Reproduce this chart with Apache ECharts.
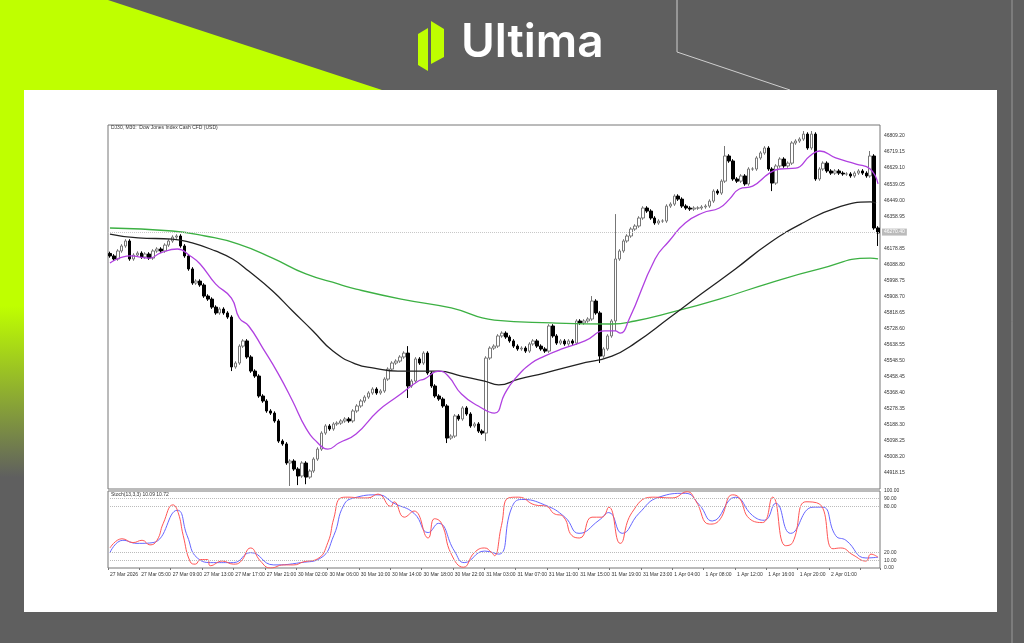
<!DOCTYPE html>
<html>
<head>
<meta charset="utf-8">
<script src="https://cdn.jsdelivr.net/npm/echarts@6/dist/echarts.min.js"></script>
<style>
  html, body { margin: 0; padding: 0; background: #5f5f5f; }
  #chart { width: 1024px; height: 643px; }
</style>
</head>
<body>
<div id="chart"></div>
<script>
// DJ30 M30 closes
const closes = [
  46136, 46119, 46164, 46192, 46220, 46119, 46141, 46152, 46130, 46147,
  46124, 46164, 46175, 46164, 46197, 46220, 46242, 46248, 46192, 46136,
  46063, 45984, 45995, 45973, 45911, 45894, 45849, 45816, 45838, 45816,
  45793, 45513, 45535, 45630, 45659, 45569, 45490, 45462, 45350, 45322,
  45266, 45254, 45210, 45097, 45081, 44974, 44985, 44940, 44901, 44974,
  44895, 44929, 44996, 45052, 45142, 45182, 45165, 45193, 45198, 45210,
  45221, 45210, 45266, 45294, 45322, 45344, 45367, 45389, 45367, 45378,
  45445, 45501, 45535, 45546, 45569, 45591, 45406, 45434, 45558, 45535,
  45591, 45479, 45406, 45350, 45333, 45294, 45114, 45125, 45238, 45221,
  45283, 45249, 45182, 45193, 45153, 45142, 45563, 45619, 45630, 45687,
  45703, 45681, 45659, 45630, 45614, 45619, 45602, 45642, 45659, 45630,
  45614, 45602, 45743, 45687, 45647, 45659, 45642, 45659, 45647, 45771,
  45760, 45771, 45782, 45883, 45816, 45574, 45614, 45687, 45771, 46119,
  46164, 46220, 46248, 46287, 46304, 46349, 46405, 46388, 46349, 46321,
  46332, 46332, 46416, 46427, 46472, 46455, 46416, 46405, 46399, 46405,
  46405, 46411, 46416, 46444, 46500, 46489, 46556, 46697, 46669, 46568,
  46556, 46585, 46540, 46624, 46624, 46686, 46714, 46742, 46624, 46545,
  46641, 46680, 46641, 46657, 46770, 46781, 46792, 46820, 46742, 46820,
  46568, 46624, 46657, 46613, 46601, 46613, 46601, 46596, 46596, 46585,
  46601, 46613, 46601, 46585, 46697, 46293, 46265
];
const firstOpen = 46150;
// long wicks: [bar, high, low]
const wicks = [
  [31, null, 45490], [46, null, 44845], [48, null, 44850], [50, null, 44855],
  [76, 45630, 45339], [86, null, 45086], [96, null, 45097], [123, 45911, null],
  [125, null, 45535], [129, 46371, 45715], [157, 46753, null], [169, null, 46500],
  [177, 46837, null], [179, 46837, null], [194, 46725, null], [196, null, 46192]
];

// moving averages, [bar, price]
const maFast = [
  [0, 46096], [5.1, 46136], [10.2, 46124], [12.8, 46152], [17.2, 46175], [20.5, 46136],
  [23, 46091], [27, 45978], [31, 45900], [33, 45788], [35.4, 45743], [39, 45619],
  [43, 45473], [46.6, 45322], [50, 45170], [53.3, 45081], [55.6, 45052], [58.4, 45086],
  [62.8, 45137], [68.4, 45266], [73.5, 45350], [78.7, 45434], [80.2, 45445], [84, 45490],
  [86.3, 45462], [89.7, 45361], [94, 45294], [98.1, 45254], [100.7, 45361], [103.3, 45445],
  [107.6, 45535], [110.9, 45574], [115.3, 45614], [121.2, 45659], [126.3, 45715], [128.9, 45715],
  [130.2, 45703], [132.5, 45782], [139.1, 46119], [142.7, 46220], [146.8, 46321], [151.2, 46377],
  [155.5, 46405], [158.1, 46455], [160.6, 46512], [164, 46528], [168.3, 46601], [170.9, 46624],
  [175, 46629], [178.6, 46697], [181.1, 46725], [185.2, 46686], [190.4, 46652], [194, 46624],
  [196, 46540]
];
const maMid = [
  [0, 46259], [7.2, 46237], [15.9, 46231], [21, 46209], [26.9, 46164], [31.3, 46119],
  [35.4, 46051], [41.5, 45939], [46.6, 45827], [51.8, 45715], [56.9, 45602], [62.8, 45529],
  [67.4, 45507], [73.5, 45490], [83.8, 45490], [89.7, 45462], [95.6, 45434], [99.2, 45412],
  [104.3, 45445], [110.9, 45479], [119.7, 45529], [128.1, 45574], [134, 45647], [142.7, 45788],
  [151.2, 45928], [159.6, 46063], [168.3, 46209], [176.8, 46321], [185.2, 46405], [194, 46439],
  [195.5, 46433]
];
const maSlow = [
  [0, 46293], [15.9, 46276], [24.3, 46248], [32.8, 46203], [41.5, 46124], [50, 46035],
  [58.4, 45978], [62.8, 45950], [74.3, 45894], [87.1, 45844], [98.1, 45776], [112.7, 45760],
  [128.1, 45754], [134, 45771], [142.7, 45816], [155.5, 45894], [168.3, 45984], [181.1, 46063],
  [194, 46124], [196, 46119]
];

// stochastic %K (red) and %D (blue), [bar, value]
const stochK = [
  [0, 26], [3.1, 38], [5.9, 33], [8.2, 36], [10.2, 30], [12, 36], [13.6, 58], [16.1, 82],
  [17.4, 72], [18.7, 42], [20.5, 8], [21.8, 5], [23.1, 11], [24.9, 11], [25.6, 3], [28.7, 9],
  [31.5, 5], [33.3, 8], [35.9, 26], [38.4, 9], [41, 0], [44.3, 4], [46.9, 4], [49.4, 8],
  [53, 12], [55.6, 33], [57.1, 64], [58.9, 91], [60.7, 92], [64.1, 91], [65.8, 91], [68.4, 96],
  [71.7, 80], [72.5, 86], [75.1, 66], [77.6, 74], [81.2, 39], [82.8, 64], [84.6, 58], [87.1, 18],
  [90.2, 1], [93, 20], [95.6, 26], [97.4, 20], [98.1, 16], [99.9, 55], [101.7, 91], [104.3, 92],
  [108.4, 82], [111.5, 80], [113.2, 71], [115.8, 66], [117.9, 42], [119.9, 39], [123, 66], [125.5, 66],
  [127.3, 79], [130.2, 32], [133.2, 72], [138.4, 92], [143.5, 91], [147.3, 99], [149.4, 88], [153, 57],
  [155.5, 62], [158.9, 95], [160.6, 91], [163.2, 64], [166.5, 59], [169.1, 92], [172.4, 29], [174.2, 33],
  [177.6, 86], [181.1, 83], [184.5, 25], [186.5, 26], [189.6, 17], [192.9, 9], [194.2, 18], [196, 14]
];
const stochD = [
  [0, 20], [3.3, 36], [6.9, 32], [11, 33], [17.2, 75], [19.7, 42], [22.3, 13], [26.4, 7],
  [31.5, 7], [35.9, 20], [41.8, 4], [48.7, 7], [53.8, 13], [57.1, 42], [59.7, 82], [62.3, 91],
  [68.4, 95], [72.5, 84], [77.6, 71], [81.2, 46], [83.8, 58], [87.9, 22], [90.4, 7], [95.6, 22],
  [99.2, 18], [102.5, 78], [105, 89], [110.9, 82], [116.1, 66], [119.7, 45], [124.8, 62], [127.3, 72],
  [130.7, 45], [135, 71], [140.1, 92], [146.8, 97], [150.4, 82], [153.7, 61], [159.6, 92], [164, 68],
  [167, 62], [169.9, 84], [173.7, 45], [179.4, 79], [181.9, 79], [185.2, 42], [187.8, 36], [192.9, 13],
  [196, 14]
];

const tickLabels = [
  '27 Mar 2026', '27 Mar 05:00', '27 Mar 09:00', '27 Mar 13:00', '27 Mar 17:00', '27 Mar 21:00',
  '30 Mar 02:00', '30 Mar 06:00', '30 Mar 10:00', '30 Mar 14:00', '30 Mar 18:00', '30 Mar 22:00',
  '31 Mar 03:00', '31 Mar 07:00', '31 Mar 11:00', '31 Mar 15:00', '31 Mar 19:00', '31 Mar 23:00',
  '1 Apr 04:00', '1 Apr 08:00', '1 Apr 12:00', '1 Apr 16:00', '1 Apr 20:00', '2 Apr 01:00'
];
const stochTicks = [0, 10, 20, 80, 90, 100];
const lastPrice = 46270;

const bars = closes.map((c, i) => String(i));
const candles = closes.map((c, i) => {
  const o = i === 0 ? firstOpen : closes[i - 1];
  let hi = Math.max(o, c) + 10;
  let lo = Math.min(o, c) - 10;
  const w = wicks.find((x) => x[0] === i);
  if (w) {
    if (w[1] != null) hi = w[1];
    if (w[2] != null) lo = w[2];
  }
  return [o, c, lo, hi];
});

const LEFT = 108, RIGHT = 144;
const chart = echarts.init(document.getElementById('chart'));
const green = '#bfff00';
const font = 'Liberation Sans';

chart.setOption({
  animation: false,
  backgroundColor: '#5f5f5f',
  graphic: [
    { type: 'polygon', z: -10, shape: { points: [[0, 0], [108, 0], [382, 90], [24, 90], [24, 612], [0, 612]] },
      style: { fill: new echarts.graphic.LinearGradient(0, 0, 0, 1, [
        { offset: 0, color: green }, { offset: 0.5, color: green }, { offset: 0.78, color: '#5f5f5f' }]) } },
    { type: 'polyline', z: -10, shape: { points: [[677, 0], [677, 52], [790, 90]] }, style: { stroke: '#cfcfcf', lineWidth: 1 } },
    { type: 'line', z: -10, shape: { x1: 1012, y1: 0, x2: 1012, y2: 643 }, style: { stroke: '#9a9a9a', lineWidth: 1 } },
    { type: 'rect', z: -9, shape: { x: 24, y: 90, width: 973, height: 522 }, style: { fill: '#fff' } },
    { type: 'polygon', shape: { points: [[418, 34], [428, 28], [428, 71], [418, 65]] }, style: { fill: green } },
    { type: 'polygon', shape: { points: [[431, 21], [444, 29], [444, 57], [431, 64]] }, style: { fill: green } },
    { type: 'text', left: 461, top: 20, style: { text: 'Ultima', fill: '#fff', font: '600 46px Inter' } },
    { type: 'text', left: 111, top: 125, style: { text: 'DJ30, M30:  Dow Jones Index Cash CFD (USD)', fill: '#333', font: '5px ' + font } },
    { type: 'text', left: 111, top: 492, style: { text: 'Stoch(13,3,3) 10.09 10.72', fill: '#333', font: '5px ' + font } }
  ],
  grid: [
    { left: LEFT, right: RIGHT, top: 125, height: 364, show: true, borderColor: '#777', borderWidth: 1 },
    { left: LEFT, right: RIGHT, top: 491, height: 77, show: true, borderColor: '#777', borderWidth: 1 }
  ],
  xAxis: [
    { type: 'category', gridIndex: 0, data: bars, boundaryGap: true,
      axisLine: { show: false }, axisTick: { show: false }, axisLabel: { show: false }, splitLine: { show: false } },
    { type: 'value', gridIndex: 0, min: -0.5, max: bars.length - 0.5, show: false },
    { type: 'category', gridIndex: 1, data: bars, boundaryGap: true,
      axisLine: { show: false },
      axisTick: { show: true, interval: (i) => i % 8 === 0, length: 2, lineStyle: { color: '#777' } },
      axisLabel: { interval: (i) => i % 8 === 0, formatter: (v, i) => tickLabels[i / 8] || '',
        fontSize: 5, color: '#333', fontFamily: font, align: 'left', margin: 4 } },
    { type: 'value', gridIndex: 1, min: -0.5, max: bars.length - 0.5, show: false }
  ],
  yAxis: [
    { type: 'value', gridIndex: 0, position: 'right', min: 44828.10, max: 46871, interval: 90.05,
      axisLine: { show: false }, axisTick: { show: false }, splitLine: { show: false },
      axisLabel: { showMinLabel: false, showMaxLabel: false, formatter: (v) => v.toFixed(2),
        fontSize: 5, color: '#333', fontFamily: font, margin: 4 } },
    { type: 'value', gridIndex: 1, position: 'right', min: 0, max: 100, interval: 10,
      axisLine: { show: false }, axisTick: { show: false },
      splitLine: { show: false },
      axisLabel: { formatter: (v) => (stochTicks.includes(v) ? v.toFixed(2) : ''),
        fontSize: 5, color: '#333', fontFamily: font, margin: 4 } }
  ],
  series: [
    { type: 'candlestick', xAxisIndex: 0, yAxisIndex: 0, data: candles, barWidth: 3,
      itemStyle: { color: '#fff', color0: '#000', borderColor: '#777', borderColor0: '#000', borderWidth: 1 },
      markLine: { symbol: 'none', silent: true, data: [{ yAxis: lastPrice }],
        lineStyle: { color: '#c8c8c8', type: 'dotted', width: 1 },
        label: { position: 'end', formatter: '46270.40', fontSize: 5, color: '#fff', backgroundColor: '#bbb', padding: [1, 2], distance: 2 } } },
    { type: 'line', xAxisIndex: 1, yAxisIndex: 0, data: maSlow, smooth: true, showSymbol: false, lineStyle: { color: '#3cb043', width: 1.3 } },
    { type: 'line', xAxisIndex: 1, yAxisIndex: 0, data: maMid, smooth: true, showSymbol: false, lineStyle: { color: '#222', width: 1.3 } },
    { type: 'line', xAxisIndex: 1, yAxisIndex: 0, data: maFast, smooth: true, showSymbol: false, lineStyle: { color: '#b040e0', width: 1.3 } },
    { type: 'line', xAxisIndex: 3, yAxisIndex: 1, data: stochD, smooth: true, showSymbol: false, lineStyle: { color: '#6666ff', width: 1 },
      markLine: { symbol: 'none', silent: true, label: { show: false },
        lineStyle: { color: '#bbb', type: 'dotted', width: 1 },
        data: [{ yAxis: 90 }, { yAxis: 80 }, { yAxis: 20 }, { yAxis: 10 }] } },
    { type: 'line', xAxisIndex: 3, yAxisIndex: 1, data: stochK, smooth: true, showSymbol: false, lineStyle: { color: '#ff5555', width: 1 } }
  ]
});
</script>
</body>
</html>
